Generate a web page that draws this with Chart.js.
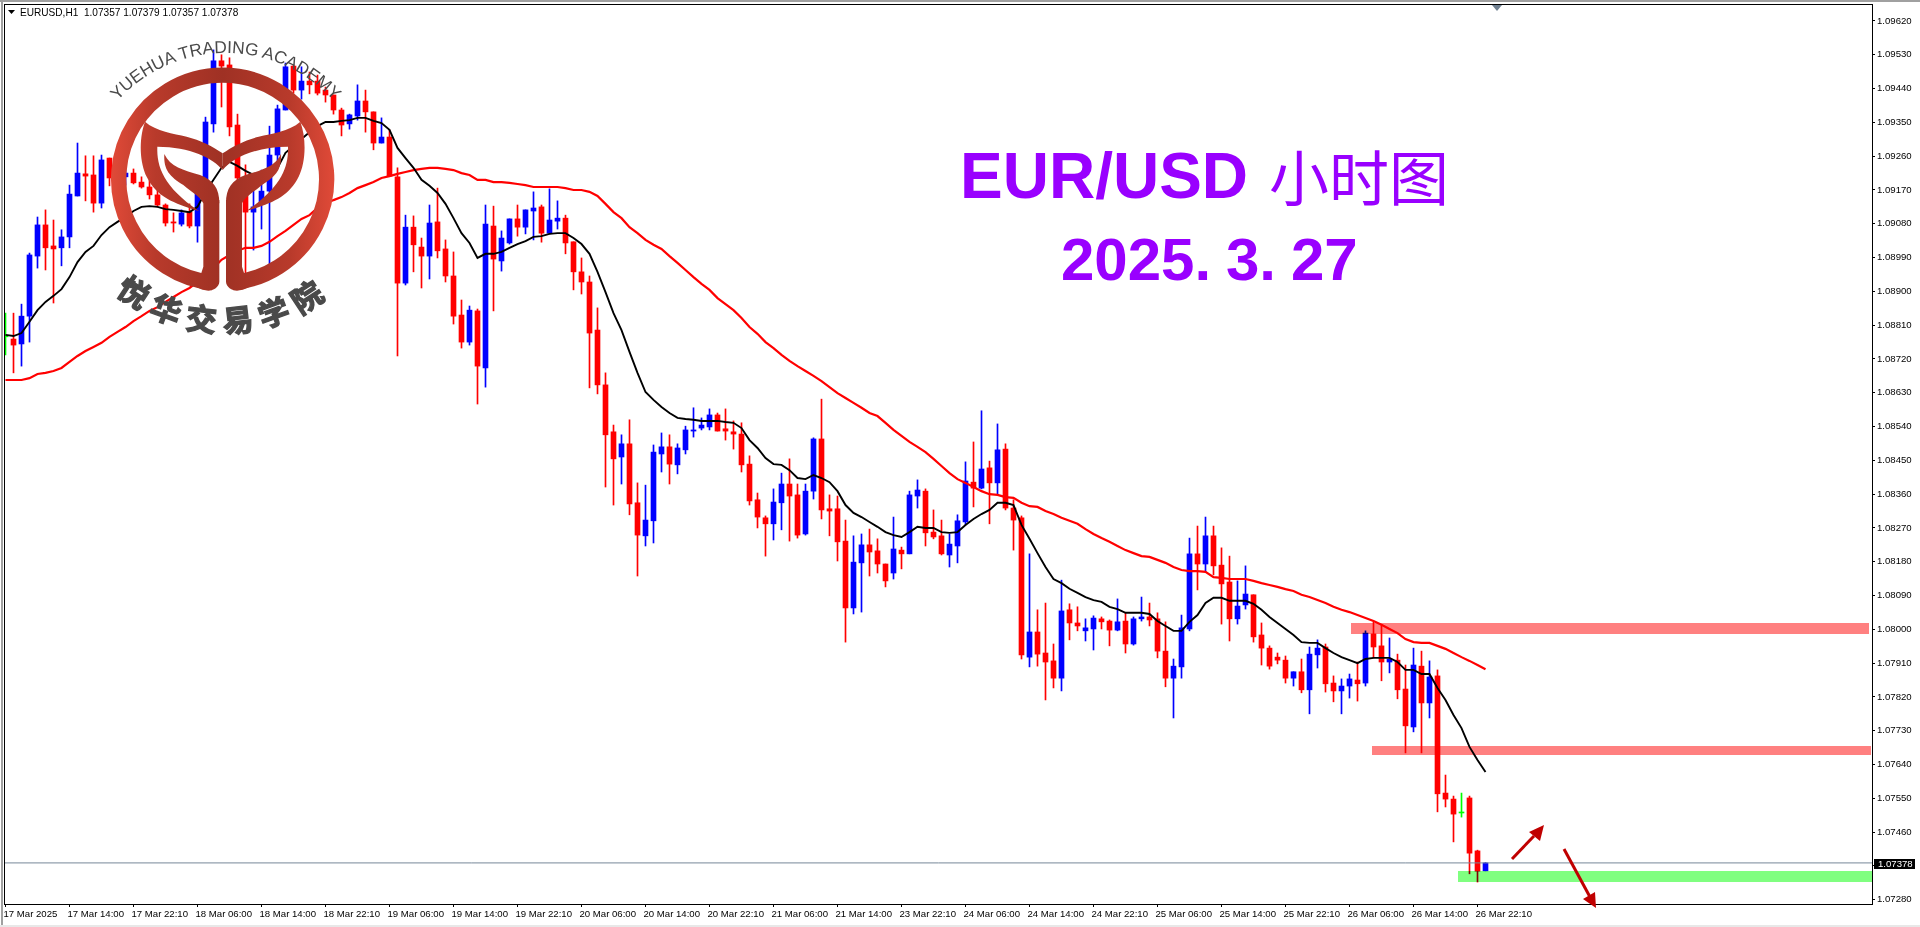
<!DOCTYPE html>
<html><head><meta charset="utf-8"><title>EUR/USD</title>
<script src="https://cdn.jsdelivr.net/npm/chart.js@4"></script>
<style>
html,body{margin:0;padding:0;background:#fff;overflow:hidden}
#wrap{position:relative;width:1920px;height:927px}
canvas{display:block}
svg{position:absolute;left:0;top:0;pointer-events:none}
.f{position:absolute}
</style></head><body>
<div id="wrap">
<canvas id="c" width="1920" height="927"></canvas>
<div class="f" style="left:0;top:0;width:1920px;height:2px;background:#a0a0a0"></div>
<div class="f" style="left:1px;top:0;width:2px;height:927px;background:#a0a0a0"></div>
<div class="f" style="left:0;top:925px;width:1920px;height:2px;background:#e8e8e8"></div>
<svg width="1920" height="927" viewBox="0 0 1920 927" xmlns="http://www.w3.org/2000/svg">
<defs>
<linearGradient id="lg" gradientUnits="userSpaceOnUse" x1="333" y1="0" x2="1003" y2="0">
<stop offset="0" stop-color="#e04a38"/><stop offset=".2" stop-color="#b83a2b"/><stop offset=".5" stop-color="#9f3124"/><stop offset=".8" stop-color="#b83a2b"/><stop offset="1" stop-color="#e04a38"/>
</linearGradient>
<path id="ta" d="M 265 447 A 438.6 438.6 0 0 1 1089 447"/>
<path id="tb" d="M 196 664 A 507 507 0 0 0 1148 664"/>
<g id="half" fill="url(#lg)">
<path d="M 435 365 C 470 395 520 400 560 410 C 600 420 640 440 668 460 L 668 510 C 640 475 570 440 472 440 C 470 500 490 560 597 633 C 520 610 470 590 440 530 C 420 490 415 420 435 365 Z"/>
<path d="M 493 462 C 510 500 550 510 600 525 C 640 540 658 565 658 610 L 610 610 C 600 590 580 580 550 555 C 510 530 490 510 493 462 Z"/>
<path d="M 610 600 L 658 600 L 658 845 C 658 860 640 872 625 872 C 615 872 600 868 590 862 L 610 800 Z"/>
</g>
</defs>
<polygon points="8,10 15,10 11.5,14" fill="#000"/>
<polygon points="1492,5 1502,5 1497,11" fill="#708090"/>
<text x="20" y="15.5" font-family="'Liberation Sans'" font-size="10.1" fill="#000" xml:space="preserve">EURUSD,H1  1.07357 1.07379 1.07357 1.07378</text>
<g transform="scale(.33333)">
<path d="M 638 848 A 312 312 0 1 1 698 848" fill="none" stroke="url(#lg)" stroke-width="46"/>
<use href="#half"/>
<use href="#half" transform="translate(1336,0) scale(-1,1)"/>
<text font-family="'Liberation Sans'" font-size="52" fill="#4a4a4a" text-anchor="middle"><textPath href="#ta" startOffset="50%">YUEHUA TRADING ACADEMY</textPath></text>
<text font-family="'Noto Sans CJK SC'" font-weight="700" font-size="92" letter-spacing="26" fill="#4a4a4a" stroke="#4a4a4a" stroke-width="4" text-anchor="middle"><textPath href="#tb" startOffset="50%">悦华交易学院</textPath></text>
</g>
<text x="960" y="198" font-family="'Liberation Sans'" font-weight="700" font-size="64" fill="#9900ff">EUR/USD</text>
<text x="1269" y="201" font-family="'Noto Sans CJK SC'" font-size="60" fill="#9900ff">小时图</text>
<text y="280" font-family="'Liberation Sans'" font-weight="700" font-size="60" fill="#9900ff"><tspan x="1061">2025.</tspan><tspan x="1226">3.</tspan><tspan x="1291">27</tspan></text>
<g fill="#c00000" stroke="#c00000">
<line x1="1512" y1="859" x2="1534" y2="836" stroke-width="3"/>
<polygon points="1544,825 1540,841 1529,832" stroke="none"/>
<line x1="1564" y1="849" x2="1590" y2="897" stroke-width="3"/>
<polygon points="1596,908 1583,899 1595,892" stroke="none"/>
</g>
</svg>
</div>
<script>
const dateLabels = ["17 Mar 2025","17 Mar 14:00","17 Mar 22:10","18 Mar 06:00","18 Mar 14:00","18 Mar 22:10","19 Mar 06:00","19 Mar 14:00","19 Mar 22:10","20 Mar 06:00","20 Mar 14:00","20 Mar 22:10","21 Mar 06:00","21 Mar 14:00","23 Mar 22:10","24 Mar 06:00","24 Mar 14:00","24 Mar 22:10","25 Mar 06:00","25 Mar 14:00","25 Mar 22:10","26 Mar 06:00","26 Mar 14:00","26 Mar 22:10"];
const priceTicks = [1.0962,1.0953,1.0944,1.0935,1.0926,1.0917,1.0908,1.0899,1.089,1.0881,1.0872,1.0863,1.0854,1.0845,1.0836,1.0827,1.0818,1.0809,1.08,1.0791,1.0782,1.0773,1.0764,1.0755,1.0746,1.0737,1.0728];
const opens = [1.08779,1.08773,1.08760,1.08834,1.08994,1.09077,1.09021,1.09016,1.09045,1.09154,
1.09213,1.09210,1.09135,1.09255,1.09207,1.09205,1.09215,1.09191,1.09178,1.09157,
1.09130,1.09085,1.09079,1.09111,1.09074,1.09170,1.09346,1.09514,1.09503,1.09343,
1.09162,1.09111,1.09133,1.09167,1.09263,1.09383,1.09500,1.09436,1.09460,1.09460,
1.09436,1.09423,1.09383,1.09346,1.09367,1.09407,1.09378,1.09295,1.09311,1.09205,
1.08922,1.09071,1.09018,1.08994,1.09085,1.09013,1.08941,1.08837,1.08765,1.08848,
1.08696,1.09074,1.08981,1.09029,1.09093,1.09071,1.09114,1.09125,1.09055,1.09087,
1.09095,1.09032,1.08952,1.08925,1.08797,1.08651,1.08526,1.08459,1.08494,1.08337,
1.08249,1.08289,1.08467,1.08486,1.08438,1.08478,1.08528,1.08536,1.08539,1.08571,
1.08534,1.08526,1.08520,1.08440,1.08345,1.08297,1.08281,1.08337,1.08387,1.08358,
1.08254,1.08368,1.08507,1.08321,1.08321,1.08235,1.08057,1.08177,1.08225,1.08209,
1.08174,1.08150,1.08211,1.08201,1.08355,1.08368,1.08259,1.08249,1.08198,1.08222,
1.08286,1.08392,1.08376,1.08430,1.08390,1.08480,1.08323,1.08297,1.07926,1.07993,
1.07937,1.07916,1.07870,1.08052,1.08017,1.07996,1.08001,1.08028,1.08022,1.07998,
1.08022,1.07961,1.08028,1.08033,1.08028,1.07942,1.07870,1.07900,1.08001,1.08201,
1.08174,1.08249,1.08171,1.08126,1.08028,1.08065,1.08092,1.07985,1.07950,1.07926,
1.07918,1.07870,1.07887,1.07839,1.07932,1.07953,1.07857,1.07836,1.07849,1.07865,
1.07857,1.07988,1.07956,1.07913,1.07918,1.07841,1.07740,1.07902,1.07804,1.07876,
1.07564,1.07548,1.07511,1.07551,1.07410,1.07357];
const highs = [1.08842,1.08842,1.08866,1.09002,1.09098,1.09117,1.09090,1.09064,1.09183,1.09295,
1.09261,1.09261,1.09263,1.09255,1.09250,1.09237,1.09226,1.09205,1.09197,1.09178,
1.09133,1.09109,1.09117,1.09133,1.09170,1.09364,1.09543,1.09530,1.09522,1.09372,
1.09237,1.09178,1.09223,1.09340,1.09396,1.09508,1.09503,1.09498,1.09484,1.09476,
1.09444,1.09423,1.09388,1.09372,1.09450,1.09436,1.09378,1.09362,1.09330,1.09229,
1.09103,1.09101,1.09042,1.09130,1.09175,1.09037,1.09005,1.08877,1.08861,1.08853,
1.09130,1.09127,1.09061,1.09093,1.09130,1.09117,1.09165,1.09130,1.09173,1.09141,
1.09103,1.09032,1.08989,1.08941,1.08856,1.08683,1.08544,1.08518,1.08558,1.08390,
1.08384,1.08491,1.08523,1.08518,1.08494,1.08541,1.08590,1.08563,1.08587,1.08576,
1.08587,1.08555,1.08550,1.08462,1.08363,1.08302,1.08374,1.08416,1.08454,1.08387,
1.08387,1.08510,1.08613,1.08358,1.08355,1.08291,1.08249,1.08254,1.08267,1.08241,
1.08174,1.08299,1.08219,1.08368,1.08398,1.08374,1.08318,1.08291,1.08254,1.08305,
1.08446,1.08499,1.08582,1.08448,1.08547,1.08494,1.08345,1.08302,1.08201,1.08052,
1.08070,1.07961,1.08131,1.08068,1.08060,1.08028,1.08036,1.08033,1.08025,1.08081,
1.08044,1.08033,1.08086,1.08070,1.08044,1.08020,1.07921,1.08038,1.08243,1.08275,
1.08299,1.08275,1.08217,1.08195,1.08129,1.08169,1.08092,1.08017,1.07956,1.07937,
1.07929,1.07887,1.07921,1.07953,1.07972,1.07961,1.07876,1.07868,1.07881,1.07913,
1.07996,1.08020,1.08012,1.07977,1.07934,1.07905,1.07950,1.07942,1.07916,1.07892,
1.07612,1.07556,1.07564,1.07556,1.07412,1.07379];
const lows = [1.08731,1.08683,1.08701,1.08765,1.08962,1.08957,1.08869,1.08968,1.09016,1.09154,
1.09141,1.09111,1.09122,1.09181,1.09170,1.09183,1.09186,1.09175,1.09146,1.09125,
1.09074,1.09058,1.09074,1.09069,1.09031,1.09157,1.09324,1.09391,1.09314,1.09183,
1.08946,1.09010,1.09066,1.08973,1.09242,1.09383,1.09428,1.09412,1.09426,1.09423,
1.09404,1.09372,1.09314,1.09332,1.09356,1.09324,1.09277,1.09295,1.09207,1.08728,
1.08917,1.08952,1.08909,1.08933,1.08989,1.08925,1.08813,1.08749,1.08757,1.08600,
1.08645,1.08848,1.08954,1.09026,1.09047,1.09053,1.09037,1.09031,1.09053,1.09066,
1.09000,1.08904,1.08893,1.08643,1.08627,1.08379,1.08331,1.08387,1.08305,1.08142,
1.08222,1.08230,1.08419,1.08387,1.08414,1.08467,1.08512,1.08531,1.08531,1.08528,
1.08504,1.08480,1.08419,1.08331,1.08270,1.08195,1.08238,1.08265,1.08235,1.08243,
1.08251,1.08347,1.08294,1.08249,1.08182,1.07966,1.08041,1.08046,1.08142,1.08150,
1.08113,1.08134,1.08161,1.08201,1.08323,1.08222,1.08241,1.08198,1.08166,1.08177,
1.08278,1.08326,1.08374,1.08281,1.08358,1.08318,1.08211,1.07921,1.07900,1.07902,
1.07812,1.07844,1.07836,1.07972,1.07996,1.07969,1.07945,1.08001,1.07956,1.07996,
1.07937,1.07958,1.08022,1.08009,1.07924,1.07847,1.07764,1.07870,1.07996,1.08105,
1.08153,1.08145,1.08014,1.07969,1.08014,1.08054,1.07966,1.07905,1.07894,1.07908,
1.07857,1.07849,1.07831,1.07775,1.07897,1.07833,1.07807,1.07775,1.07817,1.07809,
1.07849,1.07924,1.07863,1.07884,1.07815,1.07671,1.07727,1.07671,1.07764,1.07514,
1.07527,1.07434,1.07500,1.07349,1.07327,1.07357];
const closes = [1.08779,1.08757,1.08834,1.08997,1.09077,1.09016,1.09013,1.09045,1.09159,1.09215,
1.09207,1.09135,1.09250,1.09202,1.09237,1.09215,1.09189,1.09178,1.09157,1.09130,
1.09082,1.09082,1.09109,1.09074,1.09170,1.09351,1.09514,1.09500,1.09338,1.09202,
1.09111,1.09125,1.09167,1.09263,1.09386,1.09498,1.09436,1.09460,1.09450,1.09428,
1.09423,1.09383,1.09343,1.09370,1.09407,1.09378,1.09295,1.09311,1.09207,1.08922,
1.09071,1.09024,1.08994,1.09082,1.09008,1.08941,1.08834,1.08765,1.08850,1.08701,
1.09079,1.08986,1.09042,1.09093,1.09071,1.09117,1.09122,1.09055,1.09090,1.09095,
1.09029,1.08952,1.08925,1.08789,1.08651,1.08518,1.08454,1.08494,1.08334,1.08251,
1.08291,1.08472,1.08486,1.08440,1.08483,1.08531,1.08531,1.08544,1.08571,1.08528,
1.08528,1.08520,1.08438,1.08342,1.08299,1.08281,1.08339,1.08387,1.08355,1.08251,
1.08368,1.08507,1.08318,1.08315,1.08233,1.08057,1.08179,1.08225,1.08206,1.08174,
1.08129,1.08214,1.08201,1.08358,1.08371,1.08257,1.08246,1.08201,1.08227,1.08289,
1.08395,1.08376,1.08427,1.08390,1.08478,1.08323,1.08291,1.07932,1.07993,1.07934,
1.07913,1.07870,1.08049,1.08017,1.08009,1.08004,1.08030,1.08020,1.07998,1.08020,
1.07961,1.08028,1.08033,1.08025,1.07942,1.07870,1.07902,1.08004,1.08201,1.08174,
1.08249,1.08169,1.08121,1.08028,1.08062,1.08094,1.07980,1.07950,1.07902,1.07918,
1.07870,1.07887,1.07839,1.07934,1.07950,1.07855,1.07836,1.07849,1.07868,1.07855,
1.07990,1.07953,1.07913,1.07921,1.07839,1.07743,1.07905,1.07804,1.07873,1.07562,
1.07548,1.07508,1.07511,1.07404,1.07356,1.07378];
const fastMA = [1.08784,1.08781,1.08789,1.08819,1.08850,1.08872,1.08888,1.08906,1.08938,1.08978,
1.09005,1.09021,1.09050,1.09071,1.09085,1.09098,1.09114,1.09125,1.09127,1.09125,
1.09119,1.09117,1.09114,1.09111,1.09125,1.09165,1.09197,1.09229,1.09245,1.09234,
1.09221,1.09210,1.09205,1.09210,1.09229,1.09269,1.09287,1.09306,1.09324,1.09340,
1.09351,1.09351,1.09354,1.09356,1.09362,1.09362,1.09354,1.09348,1.09330,1.09282,
1.09255,1.09229,1.09197,1.09181,1.09162,1.09133,1.09095,1.09055,1.09029,1.08989,
1.09000,1.09000,1.09005,1.09016,1.09026,1.09034,1.09045,1.09047,1.09053,1.09055,
1.09055,1.09042,1.09026,1.09000,1.08952,1.08898,1.08842,1.08797,1.08739,1.08683,
1.08632,1.08611,1.08592,1.08576,1.08563,1.08560,1.08558,1.08555,1.08555,1.08555,
1.08552,1.08550,1.08536,1.08504,1.08483,1.08456,1.08440,1.08438,1.08424,1.08403,
1.08400,1.08411,1.08403,1.08392,1.08368,1.08331,1.08310,1.08299,1.08286,1.08273,
1.08259,1.08251,1.08246,1.08259,1.08273,1.08270,1.08270,1.08259,1.08257,1.08259,
1.08278,1.08294,1.08307,1.08318,1.08337,1.08337,1.08331,1.08278,1.08241,1.08203,
1.08166,1.08134,1.08123,1.08108,1.08097,1.08086,1.08078,1.08073,1.08060,1.08054,
1.08044,1.08044,1.08044,1.08041,1.08022,1.08009,1.07996,1.07996,1.08020,1.08038,
1.08070,1.08084,1.08084,1.08076,1.08076,1.08076,1.08068,1.08052,1.08033,1.08017,
1.08001,1.07985,1.07966,1.07964,1.07964,1.07950,1.07937,1.07926,1.07918,1.07910,
1.07921,1.07924,1.07924,1.07924,1.07913,1.07892,1.07892,1.07881,1.07881,1.07844,
1.07812,1.07772,1.07737,1.07687,1.07652,1.07620];
const slowMA = [1.08664,1.08664,1.08664,1.08669,1.08680,1.08683,1.08688,1.08696,1.08712,1.08728,
1.08741,1.08752,1.08763,1.08779,1.08792,1.08805,1.08821,1.08834,1.08848,1.08858,
1.08872,1.08885,1.08898,1.08909,1.08925,1.08944,1.08962,1.08984,1.08997,1.09008,
1.09016,1.09016,1.09021,1.09032,1.09047,1.09061,1.09077,1.09093,1.09103,1.09122,
1.09133,1.09143,1.09151,1.09162,1.09175,1.09183,1.09191,1.09202,1.09207,1.09213,
1.09218,1.09223,1.09226,1.09229,1.09229,1.09226,1.09223,1.09215,1.09210,1.09197,
1.09197,1.09191,1.09191,1.09189,1.09186,1.09183,1.09178,1.09178,1.09178,1.09178,
1.09175,1.09170,1.09170,1.09165,1.09154,1.09133,1.09111,1.09095,1.09071,1.09055,
1.09037,1.09024,1.09013,1.08994,1.08976,1.08957,1.08938,1.08920,1.08904,1.08882,
1.08866,1.08850,1.08829,1.08805,1.08787,1.08765,1.08749,1.08731,1.08715,1.08701,
1.08688,1.08675,1.08661,1.08645,1.08629,1.08616,1.08603,1.08590,1.08576,1.08568,
1.08550,1.08531,1.08515,1.08499,1.08486,1.08472,1.08454,1.08435,1.08416,1.08400,
1.08390,1.08379,1.08368,1.08360,1.08358,1.08352,1.08350,1.08337,1.08328,1.08326,
1.08315,1.08307,1.08297,1.08289,1.08281,1.08267,1.08254,1.08243,1.08233,1.08222,
1.08211,1.08203,1.08195,1.08193,1.08185,1.08177,1.08166,1.08158,1.08155,1.08155,
1.08153,1.08139,1.08137,1.08134,1.08134,1.08134,1.08129,1.08123,1.08118,1.08113,
1.08107,1.08102,1.08092,1.08086,1.08078,1.08070,1.08060,1.08052,1.08046,1.08038,
1.08030,1.08022,1.08012,1.08001,1.07990,1.07974,1.07966,1.07964,1.07964,1.07956,
1.07948,1.07937,1.07926,1.07916,1.07905,1.07894];
const lastPrice = 1.07378;
const zoneStarts = [168.2,170.8,181.6];
const zoneEnds = [232.9,233.2,233.3];
const zoneTops = [1.08017,1.07689,1.07356];
const zoneBottoms = [1.07988,1.07665,1.07327];
const zoneColors = ["#ff8080","#ff8080","#80ff80"];

const UP="#0000ff",DOWN="#ff0000",FLAT="#00ff00";
const barColors = opens.map((o,i)=>closes[i]>o?UP:closes[i]<o?DOWN:FLAT);
const xIndex = opens.map((_,i)=>i);
const font = {family:"'Liberation Sans'",size:9.6};
const overlay = {
  id:"overlay",
  afterDatasetsDraw(ch){
    const {ctx,scales:{x,y},chartArea:a}=ch;
    ctx.save();
    ctx.beginPath();ctx.rect(a.left,a.top,a.width,a.height);ctx.clip();
    ctx.globalCompositeOperation="multiply";
    zoneStarts.forEach((s,i)=>{
      const x0=Math.round(x.getPixelForValue(s)),x1=Math.round(x.getPixelForValue(zoneEnds[i])),t=Math.round(y.getPixelForValue(zoneTops[i])),b=Math.round(y.getPixelForValue(zoneBottoms[i]));
      ctx.fillStyle=zoneColors[i];ctx.fillRect(x0,t,x1-x0,b-t);
    });
    ctx.restore();
  },
  afterDraw(ch){
    const {ctx,scales:{y},chartArea:a}=ch;
    ctx.save();
    ctx.strokeStyle="#000";ctx.lineWidth=1;
    ctx.strokeRect(a.left-.5,a.top-.5,a.width+1,a.height+1);
    const py=Math.round(y.getPixelForValue(lastPrice));
    ctx.fillStyle="#000";ctx.fillRect(a.right+2,py-4,41,10);
    ctx.fillStyle="#fff";ctx.font="9.6px 'Liberation Sans'";ctx.textBaseline="middle";ctx.textAlign="left";
    ctx.fillText(lastPrice.toFixed(5),a.right+6,py+1.5);
    ctx.restore();
  }
};
new Chart(document.getElementById("c"),{
  data:{
    labels:xIndex,
    datasets:[
      {type:"line",order:1,data:xIndex.map(i=>({x:i,y:fastMA[i]})),borderColor:"#000",borderWidth:1.9,pointRadius:0,tension:0,fill:false},
      {type:"line",order:2,data:xIndex.map(i=>({x:i,y:slowMA[i]})),borderColor:"#ff0000",borderWidth:2.2,pointRadius:0,tension:0,fill:false},
      {type:"line",order:3,data:[{x:-0.0625,y:lastPrice},{x:233.3125,y:lastPrice}],borderColor:"#778899",borderWidth:1,pointRadius:0,fill:false},
      {type:"bar",order:4,data:xIndex.map(i=>({x:i,y:[Math.min(opens[i],closes[i]),Math.max(opens[i],closes[i])]})),backgroundColor:barColors,barThickness:5,minBarLength:1,grouped:false},
      {type:"bar",order:5,data:xIndex.map(i=>({x:i,y:[lows[i],highs[i]]})),backgroundColor:barColors,barThickness:1,grouped:false}
    ]
  },
  options:{
    responsive:false,animation:false,devicePixelRatio:1,
    layout:{padding:{left:5,top:5,right:0,bottom:0}},
    plugins:{legend:{display:false},tooltip:{enabled:false},title:{display:false}},
    scales:{
      x:{type:"linear",position:"bottom",offset:false,min:-0.0625,max:233.3125,
        grid:{drawOnChartArea:false,drawTicks:true,tickLength:3,color:"#000",offset:false},
        border:{display:false},
        afterBuildTicks(s){s.ticks=dateLabels.map((_,i)=>({value:i*8}));},
        afterFit(s){s.height=23;s.paddingLeft=0;s.paddingRight=0;},
        ticks:{autoSkip:false,maxRotation:0,minRotation:0,align:"start",padding:2,labelOffset:-2,color:"#000",font,callback:v=>dateLabels[v/8]}},
      y:{type:"linear",position:"right",min:1.072686,max:1.096626,
        grid:{drawOnChartArea:false,drawTicks:true,tickLength:3,color:"#000"},
        border:{display:false},
        afterBuildTicks(s){s.ticks=priceTicks.map(v=>({value:v}));},
        afterFit(s){s.width=48;s.paddingTop=0;s.paddingBottom=0;},
        ticks:{autoSkip:false,padding:2,color:"#000",font,callback:v=>v.toFixed(5)}}
    }
  },
  plugins:[overlay]
});
</script>
</body></html>
